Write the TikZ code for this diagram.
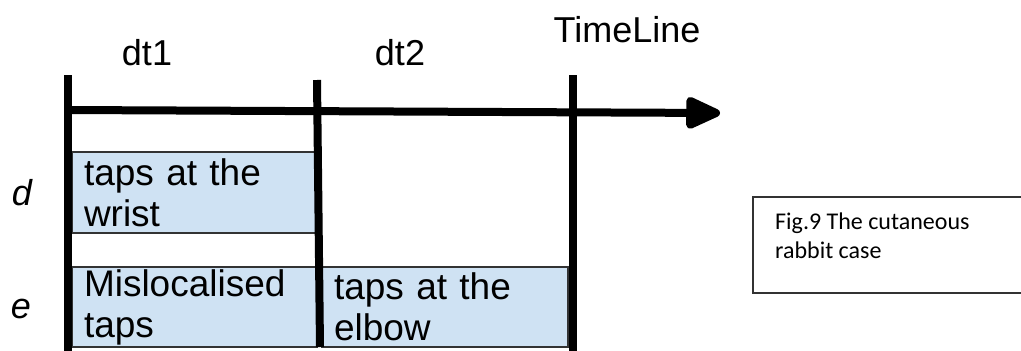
\documentclass[tikz,border=0pt]{standalone}
\usepackage{fontspec}
\setmainfont{Liberation Sans}
\newfontfamily\capfont{Carlito}
\usetikzlibrary{arrows.meta}

\definecolor{cellblue}{HTML}{CFE2F3}
\definecolor{cellline}{HTML}{333333}

\tikzset{
  tickline/.style={line width=8pt},
  cell/.style={draw=cellline, fill=cellblue, line width=1.5pt, anchor=north west,
    inner xsep=12pt, inner ysep=0pt, outer sep=0pt, align=left,
    font=\fontsize{37}{41}\selectfont},
  toplabel/.style={anchor=base, inner sep=0pt, font=\fontsize{36}{40}\selectfont},
  rowlabel/.style={anchor=base, inner sep=0pt, font=\fontsize{36}{40}\selectfont\itshape},
}

\begin{document}
\begin{tikzpicture}[x=1pt, y=-1pt]
  \useasboundingbox (0,0) rectangle (1021,351);

  % interval labels
  \node[toplabel] (dt1) at (147,65) {dt1};
  \node[toplabel] (dt2) at (400,65) {dt2};
  \node[toplabel] (timeline) at (627,42) {TimeLine};

  % row labels
  \node[rowlabel] (rowd) at (22,205) {d};
  \node[rowlabel] (rowe) at (21,318) {e};

  % cells
  \node[cell, text width=220pt, minimum height=81pt] (wrist) at (72,152) {taps at the\\wrist};
  \node[cell, text width=221pt, minimum height=80pt] (mislocal) at (72,267) {Mislocalised\\taps};
  \node[cell, text width=222pt, minimum height=80pt] (elbow) at (322,267) {taps at the\\elbow};

  % time axis and ticks
  \coordinate (axisstart) at (68,110);
  \coordinate (axisend) at (720,113);
  \coordinate (tick0top) at (68,75);
  \coordinate (tick0bot) at (68,351);
  \coordinate (tick1top) at (317,80);
  \coordinate (tick1bot) at (320,347);
  \coordinate (tick2top) at (573,75);
  \coordinate (tick2bot) at (573,351);

  \draw[tickline] (tick0top) -- (tick0bot);
  \draw[tickline] (tick1top) -- (tick1bot);
  \draw[tickline] (tick2top) -- (tick2bot);
  \draw[tickline, -{Triangle[length=40pt, width=34pt, round]}] (axisstart) -- (axisend);

  % caption frame, open at the right
  \coordinate (capnw) at (753,197);
  \coordinate (capsw) at (753,293);
  \draw[cellline, line width=1.5pt] (1021,197) -- (capnw) -- (capsw) -- (1021,293);
  \node[anchor=north west, inner sep=0pt, align=left, font=\capfont\fontsize{24}{29}\selectfont]
    (caption) at (775,213) {Fig.9 The cutaneous\\rabbit case};
\end{tikzpicture}
\end{document}
